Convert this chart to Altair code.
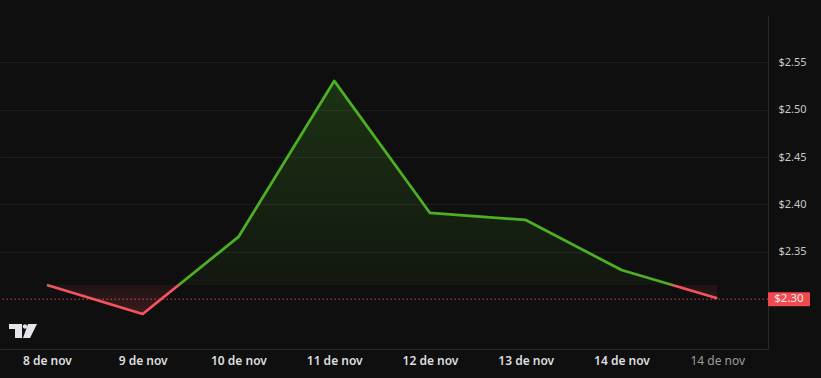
import json
import altair as alt
import pandas as pd

# ---- data ----
labels = ["8 de nov", "9 de nov", "10 de nov", "11 de nov", "12 de nov",
          "13 de nov", "14 de nov", "14 de nov"]
values = [2.315, 2.2844, 2.3657, 2.5304, 2.391, 2.3836, 2.3308, 2.301]
price_ticks = [2.35, 2.40, 2.45, 2.50, 2.55]
last_price = 2.30
baseline = values[0]

BG = "#0f0f0f"
GREEN = "#4caf24"
RED = "#f7525f"
LABEL_RED = "#ef4a50"
FONT = "Noto Sans"

df = pd.DataFrame({"i": list(range(len(values))), "value": values})

vmax, vmin = max(values), min(values)
split = (vmax - baseline) / (vmax - vmin)

x_enc = alt.X("i:Q", scale=alt.Scale(domain=[-0.49, 7.53], nice=False, zero=False),
              axis=alt.Axis(values=list(range(len(labels))),
                            labelExpr=f"{json.dumps(labels)}[datum.value]",
                            title=None, grid=False, ticks=False,
                            domain=True, domainColor="#2a2a2a",
                            labelPadding=6, labelFontSize=12, labelFont=FONT,
                            labelFontWeight=alt.condition("datum.value == 7", alt.value("normal"), alt.value(600)),
                            labelColor=alt.condition("datum.value == 7", alt.value("#9c9c9c"), alt.value("#dedede"))))
y_scale = alt.Scale(domain=[2.2474, 2.60], nice=False, zero=False)
y_enc = alt.Y("value:Q", scale=y_scale,
              axis=alt.Axis(orient="right", values=price_ticks, format="$.2f",
                            title=None, grid=True, gridColor="#1d1d1d",
                            ticks=False, domain=True, domainColor="#2a2a2a",
                            labelPadding=10, labelFontSize=11, labelFont=FONT,
                            labelColor="#c8c8c8"))

fill_grad = alt.Gradient(
    gradient="linear", x1=0, y1=0, x2=0, y2=1,
    stops=[alt.GradientStop(color="rgba(76,175,36,0.22)", offset=0),
           alt.GradientStop(color="rgba(76,175,36,0.05)", offset=split),
           alt.GradientStop(color="rgba(247,82,95,0.07)", offset=split),
           alt.GradientStop(color="rgba(247,82,95,0.18)", offset=1)])

line_grad = alt.Gradient(
    gradient="linear", x1=0, y1=0, x2=0, y2=1,
    stops=[alt.GradientStop(color=GREEN, offset=0),
           alt.GradientStop(color=GREEN, offset=split),
           alt.GradientStop(color=RED, offset=split),
           alt.GradientStop(color=RED, offset=1)])

base = alt.Chart(df)

area = base.mark_area(color=fill_grad).encode(x=x_enc, y=y_enc, y2=alt.datum(baseline))

price_df = pd.DataFrame({"p": [last_price], "txt": ["$" + format(last_price, ".2f")]})
price_base = alt.Chart(price_df)
dotted = price_base.mark_rule(color=RED, strokeDash=[1.5, 2.5], strokeWidth=1, opacity=0.85).encode(
    y=alt.Y("p:Q", scale=y_scale))

line = base.mark_line(color=line_grad, strokeWidth=2.75, strokeJoin="round").encode(x=x_enc, y=y_enc)

box = price_base.mark_rect(color=LABEL_RED, cornerRadius=1).transform_calculate(
    lo="datum.p - 0.0074", hi="datum.p + 0.0074").encode(
    x=alt.value(768), x2=alt.value(810),
    y=alt.Y("lo:Q", scale=y_scale), y2="hi:Q")
box_text = price_base.mark_text(color="#fde8e8", fontSize=11.5, font=FONT, align="center",
                                baseline="middle").encode(
    x=alt.value(789), y=alt.Y("p:Q", scale=y_scale), text="txt:N")

logo_path = ("M-1,-0.5 L-0.07,-0.5 L-0.07,0.5 L-0.57,0.5 L-0.57,-0.14 L-1,-0.14 Z "
             "M-0.02,-0.32 A0.16,0.16 0 1,0 0.3,-0.32 A0.16,0.16 0 1,0 -0.02,-0.32 Z "
             "M0.36,-0.5 L1,-0.5 L0.5,0.5 L0,0.5 Z")
logo = alt.Chart(pd.DataFrame({"k": [0]})).mark_point(
    shape=logo_path, filled=True, size=784, color="#e3e5ea", opacity=1).encode(
    x=alt.value(23), y=alt.value(316))

chart = alt.layer(area, dotted, line, box, box_text, logo).properties(
    width=768, height=334,
    padding={"left": 0, "top": 15, "right": 53, "bottom": 29},
    autosize=alt.AutoSizeParams(type="none"),
    background=BG,
).configure_view(stroke=None, fill=BG)

chart.save("out.html", embed_options={"renderer": "svg", "actions": False})
